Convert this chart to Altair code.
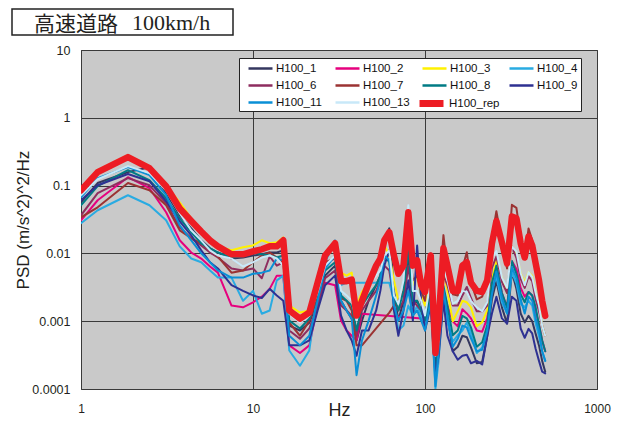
import altair as alt
import pandas as pd

freq = [1, 1.25, 1.875, 2.5, 3.125, 3.75, 4.375, 5, 5.625, 6.25, 7.5, 8.75, 10, 11.25, 12.5, 13.75, 15,
        16.25, 18.75, 21.25, 23.75, 26.25, 30, 32.5, 35, 37.5, 40, 43, 47, 52, 55, 58, 62, 66, 70, 75, 80,
        85, 90, 95, 100, 108, 115, 120, 128, 135, 145, 155, 165, 175, 185, 200, 215, 230, 245, 260, 280,
        300, 320, 340, 360, 380, 400, 420, 440, 460, 480, 500]

h100_1 = [0.0568, 0.109, 0.158, 0.187, 0.0772, 0.0365, 0.0234, 0.0156, 0.0119, 0.0103, 0.0084, 0.0087, 0.0093, 0.0097, 0.0103, 0.0103, 0.0111,
          0.00086, 0.00073, 0.00095, 0.0020, 0.0047, 0.0066, 0.0020, 0.00144, 0.00109, 0.00052, 0.00102, 0.0020, 0.0034, 0.0047, 0.0156, 0.0234, 0.0028, 0.00102, 0.0020, 0.0079, 0.0017, 0.0020, 0.00144, 0.00086, 0.0020, 0.00019, 0.00037,
          0.0029, 0.0012, 0.00036, 0.00042, 0.00061, 0.00058, 0.00041, 0.00024, 0.00025, 0.0006, 0.0021, 0.0039, 0.0016, 0.00092, 0.0053, 0.0030, 0.0013, 0.00096, 0.0012, 0.0010, 0.00065, 0.00044, 0.00026, 0.00018]
h100_2 = [0.0308, 0.0608, 0.133, 0.0915, 0.0404, 0.0156, 0.0103, 0.0084, 0.0064, 0.0052, 0.0017, 0.0016, 0.0019, 0.0023, 0.0030, 0.0047, 0.0047,
          0.00044, 0.00034, 0.00044, 0.0017, 0.0037, 0.0034, 0.00102, 0.00073, 0.00061, 0.00052, 0.00129,
          None, None, None, None, None, None, None, None, None, None, None, None,
          0.00109, 0.0020, 0.00026, 0.00052,
          0.0029, 0.0017, 0.0010, 0.00084, 0.0015, 0.0013, 0.0011, 0.00073, 0.0007, 0.0011, 0.0037, 0.0066, 0.0026, 0.0016, 0.0077, 0.0059, 0.0031, 0.0023, 0.0027, 0.0024, 0.0014, 0.00088, 0.00052, 0.00036]
h100_3 = [0.0855, 0.169, 0.282, 0.194, 0.101, 0.0568, 0.0329, 0.0219, 0.0156, 0.0127, 0.0111, 0.0123, 0.0131, 0.0156, 0.0141, 0.0146, 0.0172,
          0.0017, 0.00134, 0.00144, 0.0040, 0.0087, 0.0131, 0.0052, 0.0047, 0.0052, 0.0017, 0.0027, 0.0037, 0.0060, 0.0074, 0.0131, 0.0093, 0.0040, 0.0020, 0.0028, 0.0156, 0.0034, 0.0047, 0.0024, 0.0017, 0.0047, 0.00026, 0.00073,
          0.0056, 0.0028, 0.0010, 0.0014, 0.0020, 0.0019, 0.0016, 0.00084, 0.00097, 0.00144, 0.0042, 0.0078, 0.0044, 0.0026, 0.0126, 0.0099, 0.0051, 0.0037, 0.0053, 0.0047, 0.0026, 0.0017, 0.00086, 0.00061]
h100_4 = [0.0278, 0.0433, 0.0721, 0.0513, 0.0308, 0.0127, 0.0084, 0.0074, 0.0056, 0.0044, 0.0044, 0.0020, 0.0028, 0.00129, 0.00144, 0.0040, 0.0047,
          0.00037, 0.00022, 0.00037, 0.0028, 0.0074, 0.0156, 0.0034, 0.0037,
          None, None, None, None, None, None, None,
          0.0037, 0.0020, 0.00073, 0.00086, 0.0017, 0.00121, 0.0017, 0.00121, 0.00086, 0.0020, 0.000101, 0.00026,
          0.0024, 0.00099, 0.00050, 0.00062, 0.00073, 0.00096, 0.00067, 0.00034, 0.00041, 0.00078, 0.0031, 0.0045, 0.0019, 0.0013, 0.0053, 0.0036, 0.0018, 0.0016, 0.0020, 0.0017, 0.00092, 0.0006, 0.00036, 0.00026]
h100_6 = [0.0365, 0.0772, 0.129, 0.101, 0.0549, 0.0242, 0.0167, 0.0131, 0.0103, 0.0087, 0.0060, 0.0056, 0.0060, 0.0043, 0.0090, 0.0066, 0.0074,
          0.00073, 0.00055, 0.00078, 0.0017, 0.0043, 0.0056, 0.0017, 0.00144, 0.00121, 0.00061, 0.00144, 0.0020, 0.0028, 0.0040, 0.0066, 0.0056, 0.0020, 0.00144, 0.0020, 0.0066, 0.0020, 0.0017, 0.00144, 0.00102, 0.0028, 0.00026, 0.00052,
          0.0048, 0.0034, 0.0017, 0.0017, 0.0024, 0.0032, 0.0022, 0.0014, 0.0014, 0.0017, 0.0061, 0.0090, 0.0038, 0.0026, 0.0126, 0.0086, 0.0042, 0.0031, 0.0046, 0.0039, 0.0021, 0.0014, 0.00086, 0.00061]
h100_7 = [0.0341, 0.0479, 0.109, 0.0855, 0.0513, 0.0219, 0.0167, 0.0141, 0.0111, 0.0090, 0.0052, 0.0056, 0.0074, 0.0093, 0.0103, 0.0087, 0.0074,
          0.00095, 0.00061, 0.00102, 0.0022, 0.0074, 0.0084, 0.0022, 0.0020, 0.00144, 0.00044, 0.00044,
          None, None, None, None,
          0.00134, 0.0017, 0.0020, 0.0028, 0.0156, 0.0040, 0.0047, 0.0028, 0.0020, 0.0100, 0.00037, 0.0020,
          0.0186, 0.0055, 0.0025, 0.0024, 0.0061, 0.0104, 0.0037, 0.0021, 0.0023, 0.0040, 0.0168, 0.042, 0.0145, 0.0060, 0.052, 0.047, 0.0168, 0.0087, 0.0233, 0.0156, 0.0071, 0.0037, 0.0020, 0.0012]
h100_8 = [0.0513, 0.098, 0.169, 0.120, 0.0651, 0.0329, 0.0205, 0.0141, 0.0119, 0.0103, 0.0087, 0.0090, 0.0103, 0.0097, 0.0093, 0.0087, 0.0093,
          0.00102, 0.00078, 0.00109, 0.0024, 0.0056, 0.0074, 0.0024, 0.0020, 0.0017, 0.00073, 0.0017, 0.0024, 0.0034, 0.0047, 0.0093, 0.0074, 0.0024, 0.00144, 0.0028, 0.0111, 0.0020, 0.0020, 0.00144, 0.00102, 0.0028, 0.00022, 0.00044,
          0.0033, 0.0017, 0.00062, 0.00073, 0.0012, 0.0011, 0.00081, 0.00042, 0.00049, 0.00088, 0.0037, 0.0066, 0.0026, 0.0016, 0.0077, 0.0050, 0.0025, 0.0019, 0.0027, 0.0024, 0.0016, 0.00088, 0.00052, 0.00036]
h100_9 = [0.0608, 0.101, 0.148, 0.116, 0.0588, 0.0297, 0.0185, 0.0111, 0.0074, 0.0060, 0.0034, 0.0028, 0.0024, 0.0022, 0.0030, 0.0024, 0.0020,
          0.00044, 0.00044, 0.00052, 0.00144, 0.0034, 0.0047, 0.00121, 0.00073, 0.00052, 0.00031, 0.00073, 0.00073, 0.00144, 0.0028, 0.0066, 0.0111, 0.00144, 0.00061, 0.00144, 0.0040, 0.00102, 0.0131, 0.0020, 0.00073, 0.0017, 0.00016, 0.00031,
          0.0020, 0.00061, 0.00036, 0.00027, 0.00031, 0.00032, 0.00024, 0.00026, 0.00023, 0.0006, 0.0013, 0.0023, 0.0011, 0.00092, 0.0023, 0.0020, 0.00078, 0.00057, 0.00077, 0.00066, 0.00039, 0.00026, 0.00018, 0.00017]
h100_11 = [0.0673, 0.129, 0.187, 0.143, 0.0721, 0.0259, 0.0156, 0.0100, 0.0074, 0.0056, 0.0044, 0.0044, 0.0050, 0.0052, 0.0056, 0.0084, 0.0079,
           0.00061, 0.00044, 0.00061, 0.0020, 0.0060, 0.0093, 0.0020, 0.00144, 0.00109, 0.00016, 0.00052, 0.00102, 0.0024, 0.0040, 0.0093, 0.0079, 0.0017, 0.00102, 0.00144, 0.0028, 0.00121, 0.00144, 0.00102, 0.00073, 0.0020, 0.00011, 0.00037,
           0.0029, 0.0012, 0.00042, 0.00055, 0.00086, 0.00081, 0.00056, 0.00036, 0.00038, 0.00072, 0.0025, 0.0054, 0.0022, 0.0013, 0.0063, 0.0043, 0.0021, 0.0013, 0.0023, 0.0020, 0.0011, 0.00072, 0.00036, 0.00026]
h100_13 = [0.0721, 0.124, 0.194, 0.153, 0.0855, 0.0391, 0.0219, 0.0156, 0.0111, 0.0093, 0.0084, 0.0064, 0.0074, 0.0087, 0.0093, 0.0084, 0.0066,
           0.00129, 0.00095, 0.00121, 0.0027, 0.0066, 0.0093, 0.0028, 0.0024, 0.0020, 0.00102, 0.0020, 0.0034, 0.0047, 0.0056, 0.0093, 0.0111, 0.0024, 0.0018, 0.0040, 0.0513, 0.0028, 0.0028, 0.0020, 0.00121, 0.0040, 0.00031, 0.00052,
           0.0061, 0.0040, 0.0018, 0.0020, 0.0028, 0.0027, 0.0020, 0.0016, 0.0014, 0.0019, 0.0085, 0.0108, 0.0044, 0.0031, 0.0126, 0.0106, 0.0051, 0.0034, 0.0053, 0.0045, 0.0026, 0.0017, 0.00086, 0.00061]
h100_rep = [0.0855, 0.158, 0.263, 0.181, 0.098, 0.046, 0.030, 0.021, 0.0156, 0.0127, 0.0097, 0.0097, 0.0107, 0.0115, 0.0127, 0.0127, 0.0156,
            0.00144, 0.00109, 0.00134, 0.0037, 0.0093, 0.0141, 0.0039, 0.0039, 0.0041, 0.00121, 0.0020, 0.0036, 0.0066, 0.0084, 0.0156, 0.0205, 0.0093, 0.0050, 0.0066, 0.0404, 0.0066, 0.0079, 0.0034, 0.0027, 0.0093, 0.00034, 0.00102,
            0.0119, 0.0066, 0.0028, 0.0028, 0.0066, 0.0074, 0.0037, 0.0028, 0.0027, 0.0040, 0.0141, 0.030, 0.0145, 0.0071, 0.035, 0.033, 0.0141, 0.0087, 0.0178, 0.0131, 0.0071, 0.0040, 0.0020, 0.0012]

series_names = ["H100_1", "H100_2", "H100_3", "H100_4", "H100_6", "H100_7",
                "H100_8", "H100_9", "H100_11", "H100_13"]
series_values = [h100_1, h100_2, h100_3, h100_4, h100_6, h100_7,
                 h100_8, h100_9, h100_11, h100_13]
colors = ["#34375f", "#e6007e", "#fff100", "#29abe2", "#8e2d5f", "#9b3333",
          "#007b85", "#2e3192", "#0a8fd6", "#c8e8f8"]
rep_name = "H100_rep"
rep_color = "#ed1c24"

rows = []
for name, vals in zip(series_names, series_values):
    assert len(vals) == len(freq), name
    for i, (f, v) in enumerate(zip(freq, vals)):
        if v is not None:
            rows.append({"f": f, "psd": v, "series": name, "i": i})
df = pd.DataFrame(rows)
df_rep = pd.DataFrame({"f": freq, "psd": h100_rep, "series": rep_name, "i": list(range(len(freq)))})

common_legend = dict(
    title=None, orient="none", direction="horizontal",
    labelFont="Liberation Sans", labelFontSize=11.5, labelColor="#111111", labelLimit=80,
    symbolType="M-2,0H2", symbolSize=144, symbolOffset=11, labelOffset=8,
)
legend1 = alt.Legend(legendX=158, legendY=8, columns=4, fillColor="white", strokeColor="#222222",
                     padding=3, rowPadding=4, columnPadding=6, gridAlign="all",
                     symbolStrokeWidth=2.5, **common_legend)
legend2 = alt.Legend(legendX=330, legendY=44, padding=0, symbolStrokeWidth=7, **common_legend)

xenc = alt.X("f:Q", scale=alt.Scale(type="log", domain=[1, 1000]),
             axis=alt.Axis(values=[1, 10, 100, 1000], format="~g", title="Hz", grid=True,
                           gridColor="#3a3a3a", ticks=False, domain=False, labelFlush=False,
                           labelFont="Liberation Sans", labelFontSize=12, labelColor="#231f20",
                           labelPadding=14, titleFont="Liberation Sans", titleFontSize=18,
                           titleFontWeight="normal", titleColor="#231f20", titleY=26,
                           titleBaseline="alphabetic"))
yenc = alt.Y("psd:Q", scale=alt.Scale(type="log", domain=[0.0001, 10]),
             axis=alt.Axis(values=[0.0001, 0.001, 0.01, 0.1, 1, 10], format="~g",
                           title="PSD  (m/s^2)^2/Hz", grid=True, gridColor="#3a3a3a",
                           ticks=False, domain=False, labelFlush=False,
                           labelFont="Liberation Sans", labelFontSize=12.5, labelColor="#231f20",
                           labelPadding=11, titleFont="Liberation Sans", titleFontSize=17,
                           titleFontWeight="normal", titleColor="#231f20", titleX=-58,
                           titleY=169.5, titleBaseline="middle", titleAlign="center"))

others = alt.Chart(df).mark_line(clip=True, strokeWidth=2, strokeJoin="round", strokeCap="round").encode(
    x=xenc, y=yenc, order="i:Q",
    color=alt.Color("series:N", scale=alt.Scale(domain=series_names, range=colors), legend=legend1))
rep = alt.Chart(df_rep).mark_line(clip=True, strokeWidth=6.5, strokeJoin="round", strokeCap="round").encode(
    x=xenc, y=yenc, order="i:Q",
    color=alt.Color("series:N", scale=alt.Scale(domain=[rep_name], range=[rep_color]), legend=legend2))

one = alt.Data(values=[{"a": 1}])
box = alt.Chart(one).mark_rect(fill="white", stroke="#222222", strokeWidth=1.5).encode(
    x=alt.value(-69), x2=alt.value(152), y=alt.value(-41), y2=alt.value(-15))
t1 = alt.Chart(one).mark_text(text="高速道路", font="Noto Sans CJK JP", fontSize=21,
                              align="left", baseline="alphabetic", color="#231f20").encode(
    x=alt.value(-47), y=alt.value(-19))
t2 = alt.Chart(one).mark_text(text="100km/h", font="Liberation Serif", fontSize=22,
                              align="left", baseline="alphabetic", color="#231f20").encode(
    x=alt.value(51), y=alt.value(-20))

chart = alt.layer(others, rep, box, t1, t2).resolve_scale(color="independent").properties(
    width=516, height=339,
    padding={"left": 73, "top": 42, "right": 21, "bottom": 32},
    autosize=alt.AutoSizeParams(type="none"),
).configure_view(fill="#c9c9c9", stroke="#3a3a3a", strokeWidth=1)

chart.save("out.html", embed_options={"renderer": "svg", "actions": False})
